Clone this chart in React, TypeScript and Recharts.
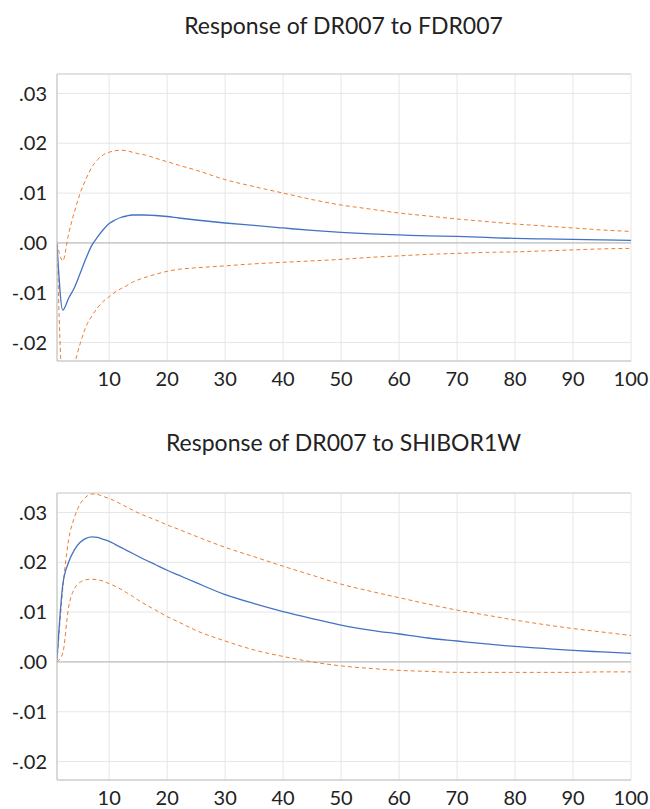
import React from 'react';
import { LineChart, Line, XAxis, YAxis, CartesianGrid, ReferenceLine } from 'recharts';

// impulse response periods (sampled along the 100-period horizon)
const PERIODS = [1, 2, 3, 4, 5, 6, 7, 8, 9, 10, 11, 12, 13, 14, 15, 16, 18, 20, 22, 25, 30, 35, 40, 45, 50, 55, 60, 65, 70, 75, 80, 85, 90, 95, 100];

// Response of DR007 to FDR007
const FDR_RESP = [-0.0003, -0.0135, -0.0111, -0.009, -0.0061, -0.0031, -0.0005, 0.0012, 0.0027, 0.0039, 0.0046, 0.0051, 0.0054, 0.0056, 0.0056, 0.0056, 0.0055, 0.0053, 0.005, 0.0046, 0.004, 0.0035, 0.003, 0.0025, 0.0021, 0.0018, 0.0016, 0.0014, 0.0013, 0.0011, 0.0009, 0.0008, 0.0007, 0.0006, 0.0005];
const FDR_UPPER = [0, -0.0036, 0.0018, 0.0062, 0.01, 0.0128, 0.0152, 0.0167, 0.0177, 0.0182, 0.0185, 0.0186, 0.0185, 0.0182, 0.0179, 0.0177, 0.017, 0.0163, 0.0156, 0.0146, 0.0127, 0.0113, 0.01, 0.0087, 0.0076, 0.0068, 0.006, 0.0054, 0.0048, 0.0043, 0.0038, 0.0034, 0.003, 0.0026, 0.0023];
const FDR_LOWER = [0, -0.0285, -0.0295, -0.0245, -0.0202, -0.0168, -0.0147, -0.013, -0.0117, -0.0108, -0.0099, -0.0092, -0.0086, -0.0079, -0.0074, -0.007, -0.0063, -0.0057, -0.0053, -0.005, -0.0046, -0.0042, -0.0039, -0.0036, -0.0033, -0.0029, -0.0026, -0.0023, -0.0021, -0.0019, -0.0018, -0.0016, -0.0014, -0.0012, -0.0011];

// Response of DR007 to SHIBOR1W
const SHIBOR_RESP = [0.0005, 0.0155, 0.02, 0.0225, 0.024, 0.0248, 0.0251, 0.025, 0.0246, 0.0242, 0.0236, 0.023, 0.0224, 0.0218, 0.0212, 0.0206, 0.0195, 0.0184, 0.0174, 0.0159, 0.0135, 0.0117, 0.0101, 0.0087, 0.0074, 0.0064, 0.0056, 0.0048, 0.0042, 0.0036, 0.0031, 0.0027, 0.0023, 0.002, 0.0017];
const SHIBOR_UPPER = [0, 0.0147, 0.0245, 0.029, 0.0317, 0.0331, 0.0337, 0.0336, 0.0332, 0.0328, 0.0323, 0.0317, 0.0311, 0.0305, 0.0299, 0.0294, 0.0285, 0.0275, 0.0266, 0.0252, 0.023, 0.0211, 0.0192, 0.0174, 0.0156, 0.0142, 0.0129, 0.0116, 0.0104, 0.0094, 0.0084, 0.0075, 0.0067, 0.006, 0.0053];
const SHIBOR_LOWER = [0, 0.0018, 0.011, 0.0147, 0.016, 0.0165, 0.0166, 0.0165, 0.0162, 0.0157, 0.0152, 0.0146, 0.0139, 0.0132, 0.0124, 0.0117, 0.0104, 0.0091, 0.008, 0.0063, 0.0042, 0.0024, 0.0011, 0, -0.0008, -0.0013, -0.0017, -0.0019, -0.0021, -0.0021, -0.0021, -0.0021, -0.0021, -0.002, -0.002];

const X_TICKS = [10, 20, 30, 40, 50, 60, 70, 80, 90, 100];
const Y_TICKS = [-0.02, -0.01, 0, 0.01, 0.02, 0.03];
const Y_MIN = -0.0237;
const Y_MAX = 0.0339;

const BLUE = '#4472C4';
const ORANGE = '#ED7D31';
const FONT = 'Lato, "Open Sans", sans-serif';

const build = (resp: number[], upper: number[], lower: number[]) =>
  PERIODS.map((p, i) => ({ period: p, resp: resp[i], upper: upper[i], lower: lower[i] }));

// ".03", "-.01", ".00" like EViews
const fmtY = (v: number) => v.toFixed(2).replace('0.', '.');

interface PanelProps {
  title: string;
  data: ReturnType<typeof build>;
  top: number;
  height: number;
  xAxisHeight: number;
  titleY: number;
}

const Panel = ({ title, data, top, height, xAxisHeight, titleY }: PanelProps) => (
  <div style={{ position: 'absolute', left: 0, top, width: 650, height }}>
    <svg width={650} height={60} style={{ position: 'absolute', left: 0, top: 0 }}>
      <text x={343.5} y={titleY} textAnchor="middle" fontSize={23} fontFamily={FONT} fill="#222">
        {title}
      </text>
    </svg>
    <LineChart
      width={650}
      height={height}
      data={data}
      margin={{ top: 74, right: 19, left: 0, bottom: 0 }}
      style={{ position: 'absolute', left: 0, top: 0 }}
    >
      <CartesianGrid stroke="#e6e6e6" />
      <XAxis
        dataKey="period"
        type="number"
        domain={[1, 100]}
        ticks={X_TICKS}
        allowDataOverflow
        height={xAxisHeight}
        axisLine={{ stroke: '#bfbfbf' }}
        tickLine={false}
        tickSize={6}
        tickMargin={5}
        tick={{ fontSize: 20, fill: '#222', fontFamily: FONT }}
      />
      <YAxis
        type="number"
        domain={[Y_MIN, Y_MAX]}
        ticks={Y_TICKS}
        allowDataOverflow
        width={57}
        tickFormatter={fmtY}
        axisLine={{ stroke: '#bfbfbf' }}
        tickLine={false}
        tickSize={6}
        tickMargin={4}
        tick={{ fontSize: 20, fill: '#222', fontFamily: FONT }}
      />
      <ReferenceLine y={Y_MAX} stroke="#d0d0d0" />
      <ReferenceLine y={0} stroke="#b5b5b5" />
      <Line type="monotone" dataKey="upper" stroke={ORANGE} strokeWidth={1} strokeDasharray="4 3" dot={false} isAnimationActive={false} />
      <Line type="monotone" dataKey="lower" stroke={ORANGE} strokeWidth={1} strokeDasharray="4 3" dot={false} isAnimationActive={false} />
      <Line type="monotone" dataKey="resp" stroke={BLUE} strokeWidth={1.3} dot={false} isAnimationActive={false} />
    </LineChart>
  </div>
);

export default function App() {
  return (
    <div style={{ position: 'absolute', left: 0, top: 0, width: 650, height: 809, background: '#fff', overflow: 'hidden' }}>
      <Panel
        title="Response of DR007 to FDR007"
        data={build(FDR_RESP, FDR_UPPER, FDR_LOWER)}
        top={0}
        height={400}
        xAxisHeight={39}
        titleY={34}
      />
      <Panel
        title="Response of DR007 to SHIBOR1W"
        data={build(SHIBOR_RESP, SHIBOR_UPPER, SHIBOR_LOWER)}
        top={419}
        height={390}
        xAxisHeight={29}
        titleY={32}
      />
    </div>
  );
}
